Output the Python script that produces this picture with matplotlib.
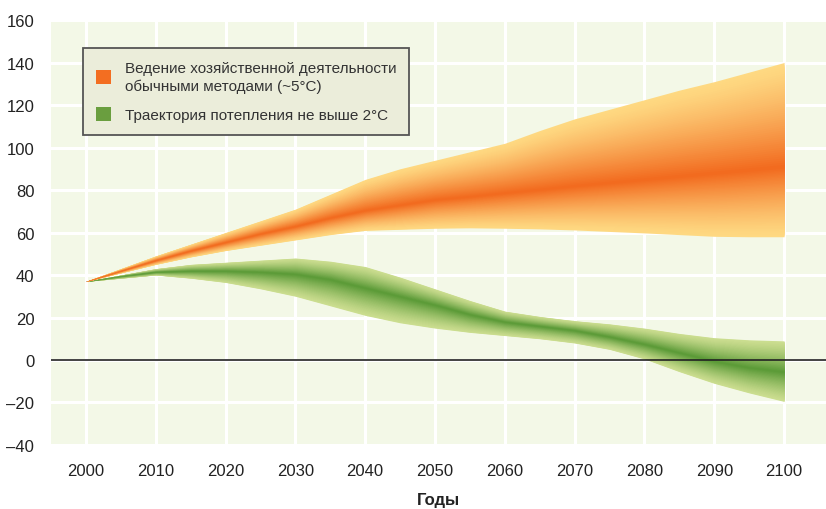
import matplotlib
matplotlib.use('Agg')
import matplotlib.pyplot as plt
import numpy as np
from matplotlib.colors import to_rgb
from matplotlib.patches import Patch

YEARS = [2000, 2005, 2010, 2015, 2020, 2025, 2030, 2035, 2040, 2045, 2050,
         2055, 2060, 2065, 2070, 2075, 2080, 2085, 2090, 2095, 2100]

# business as usual (~5 C)
BAU_UPPER = [37, 43, 49, 54.5, 60, 65.5, 71, 78, 85, 90, 94,
             98, 102, 108, 113.5, 118, 122.5, 127, 131, 135.5, 140]
BAU_MID = [37, 42, 47, 51.5, 55.5, 59.5, 63, 67, 70.5, 73, 75.5,
           77, 78.7, 80.3, 82, 83.5, 85, 86.5, 88, 89.5, 91]
BAU_LOWER = [37, 41, 45, 48.5, 51.5, 54, 56.5, 59, 61, 61.5, 62,
             62.2, 62, 61.7, 61.2, 60.5, 59.8, 59, 58.2, 58, 58]

# 2 C pathway
LOW_UPPER = [37, 40, 43, 45, 46, 47, 48, 46.5, 44, 39, 33.5,
             28, 23, 20.5, 18.5, 17, 15, 12.5, 10.5, 9.5, 9]
LOW_MID = [37, 39.5, 41.5, 42, 42, 41.5, 40.5, 38, 34, 30, 26,
           21.5, 18, 16, 14, 11, 7.5, 3.5, -0.5, -3.5, -5.5]
LOW_LOWER = [37, 38.5, 40, 38.5, 36.5, 33.5, 30, 25.5, 21, 17.5, 15,
             13, 11.5, 10, 8, 5, 0.5, -5.5, -11, -15.5, -19.5]

LABELS = ['Ведение хозяйственной деятельности\nобычными методами (~5°C)',
          'Траектория потепления не выше 2°C']

plt.rcParams['font.family'] = ['Liberation Sans', 'DejaVu Sans']


def gradient_band(ax, x, lower, mid, upper, edge, centre, steps=48, gamma=1.3):
    x = np.asarray(x, float)
    lower, mid, upper = (np.asarray(a, float) for a in (lower, mid, upper))
    c0, c1 = np.array(to_rgb(edge)), np.array(to_rgb(centre))
    for k in range(steps):
        f = 1 - k / steps
        t = (k / (steps - 1)) ** gamma
        col = c0 + (c1 - c0) * t
        ax.fill_between(x, mid - (mid - lower) * f, mid + (upper - mid) * f,
                        color=col, lw=0, zorder=2)


fig = plt.figure(figsize=(8.26, 5.10), dpi=100)
ax = fig.add_axes([0.0617, 0.1255, 0.9383, 0.8333])
ax.set_facecolor('#F3F8E7')

gradient_band(ax, YEARS, LOW_LOWER, LOW_MID, LOW_UPPER, '#CCDE90', '#5C9B38')
gradient_band(ax, YEARS, BAU_LOWER, BAU_MID, BAU_UPPER, '#FED982', '#F26B1F')

ax.axhline(0, color='#222222', lw=1.2, zorder=3)

ax.set_xlim(1995, 2106)
ax.set_ylim(-40, 160)
ax.set_xticks(range(2000, 2101, 10))
ax.set_yticks(range(-40, 161, 20))
ax.set_yticklabels([str(v).replace('-', '\u2013') for v in range(-40, 161, 20)])
ax.grid(True, color='white', lw=2.2, zorder=1)
ax.set_axisbelow(True)
for s in ax.spines.values():
    s.set_visible(False)
ax.tick_params(length=0, labelsize=12, colors='#222222')
ax.tick_params(axis='x', pad=13)
ax.tick_params(axis='y', pad=12)
ax.set_xlabel('Годы', fontsize=12, fontweight='bold', color='#222222', labelpad=10)

handles = [Patch(facecolor='#F36E21', edgecolor='none'),
           Patch(facecolor='#6A9E3F', edgecolor='none')]
leg = ax.legend(handles, LABELS, loc='upper left', bbox_to_anchor=(0.041, 0.934),
                borderaxespad=0, fontsize=11, frameon=True, fancybox=False,
                handlelength=1.0, handleheight=1.0, handletextpad=0.9,
                borderpad=0.85, labelspacing=0.95, labelcolor='#333333')
for t in leg.get_texts():
    t.set_linespacing(1.3)
leg.get_frame().set_facecolor('#EBEDDA')
leg.get_frame().set_edgecolor('#555555')
leg.get_frame().set_linewidth(1.3)
leg.get_frame().set_alpha(1)
leg.set_zorder(5)

fig.savefig('out.png', dpi=100)
